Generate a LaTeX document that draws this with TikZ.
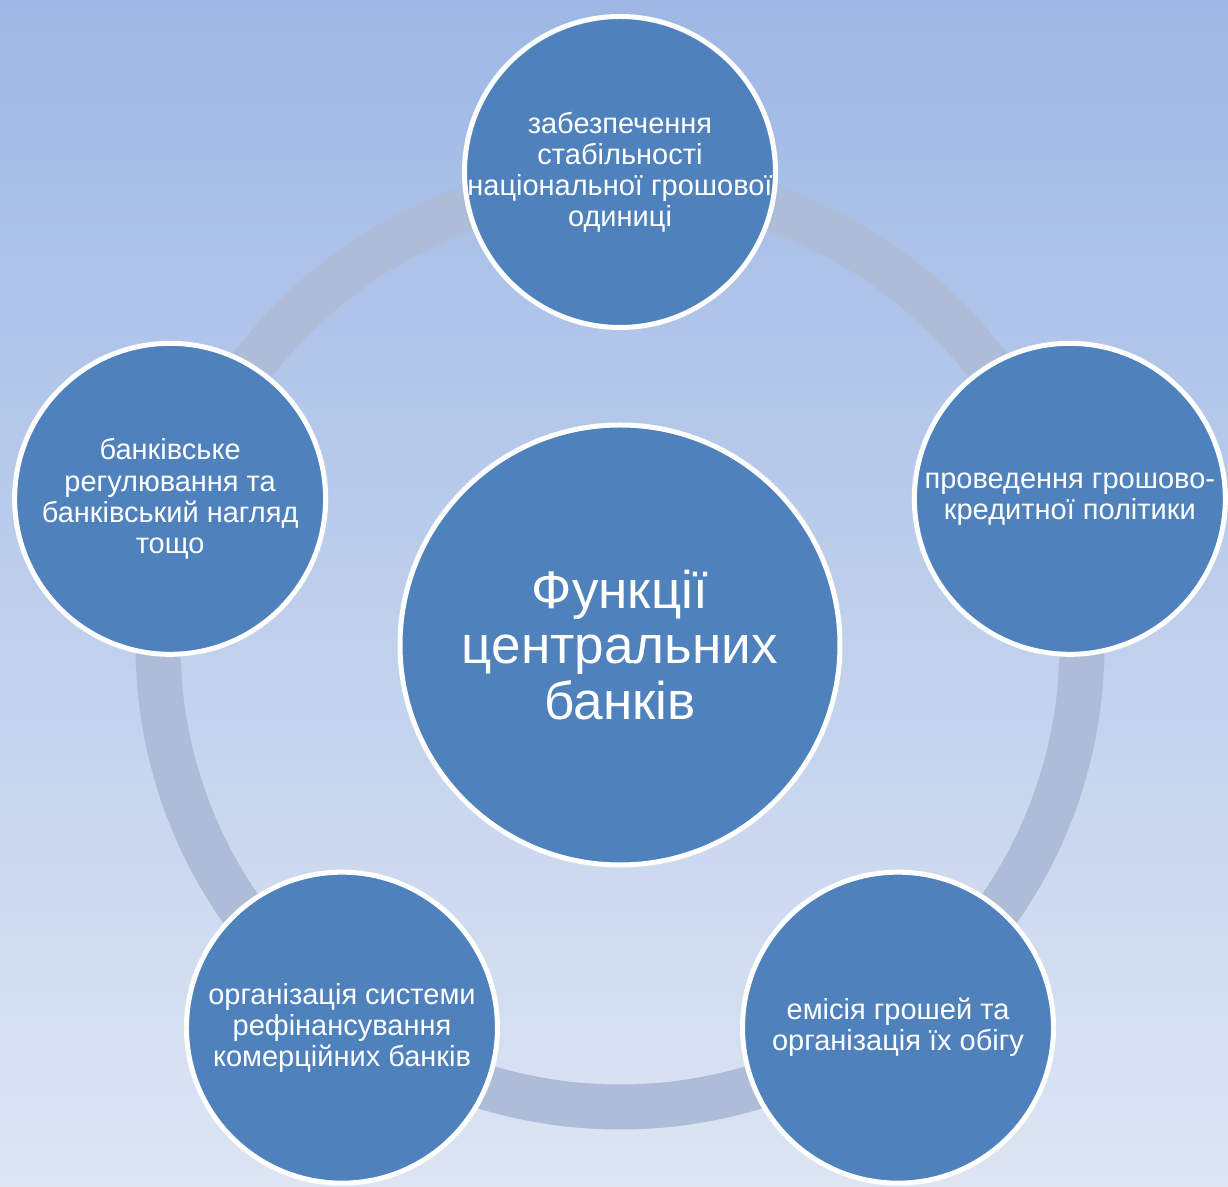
\documentclass[tikz,border=0pt]{standalone}
\usepackage{fontspec}
\setmainfont{Liberation Sans}
\definecolor{bgtop}{HTML}{9EB8E5}
\definecolor{bgbot}{HTML}{DDE5F3}
\definecolor{ringgray}{HTML}{AEBCD7}
\definecolor{funcblue}{HTML}{4F81BD}
\tikzset{
	mainfunc/.style={circle, draw=white, line width=0.1cm, fill=funcblue, text=white, inner sep=0pt, minimum size=8.8cm, align=center, font=\fontsize{30.2pt}{31.4pt}\selectfont},
	subfunc/.style={circle, draw=white, line width=0.1cm, fill=funcblue, text=white, inner sep=-1cm, minimum size=6.22cm, align=center, font=\fontsize{16.5pt}{17.7pt}\selectfont}
}
\begin{document}
\begin{tikzpicture}[scale=1]
		% Draw background
		\useasboundingbox (-12.4,-10.84) rectangle (12.16,12.9);
		\shade [top color=bgtop, bottom color=bgbot] (-12.4,-10.84) rectangle (12.16,12.9);
		% Draw ring
		\draw [ringgray, line width=0.9cm] (0,0) circle [radius=9.24];
		% Draw centre
		\node [mainfunc] (centre) at (0,0) {Функції\\центральних\\банків};
		% Draw functions
		\node [subfunc] (stability) at (90:9.46) {забезпечення\\стабільності\\національної грошової\\одиниці};
		\node [subfunc] (policy) at (18:9.46) {проведення грошово-\\кредитної політики};
		\node [subfunc] (emission) at (-54:9.46) {емісія грошей та\\організація їх обігу};
		\node [subfunc] (refinancing) at (-126:9.46) {організація системи\\рефінансування\\комерційних банків};
		\node [subfunc] (supervision) at (162:9.46) {банківське\\регулювання та\\банківський нагляд\\тощо};
	\end{tikzpicture}
\end{document}
